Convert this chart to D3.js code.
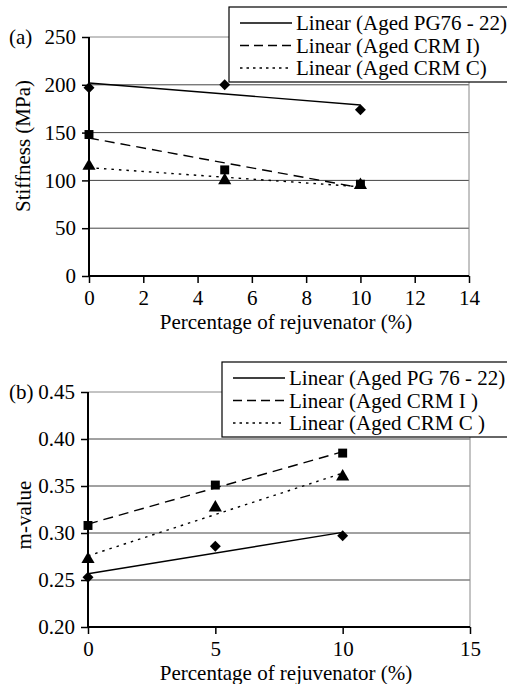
<!DOCTYPE html>
<html>
<head>
<meta charset="utf-8">
<script src="https://cdn.jsdelivr.net/npm/d3@7"></script>
<style>
  body { margin: 0; background: #fff; }
  svg { display: block; }
  svg text { font-family: "Liberation Serif", "DejaVu Serif", "Times New Roman", Times, serif; }
</style>
</head>
<body>
<svg id="vis" width="507" height="684"></svg>
<script>
// rejuvenator content (%)
const rejuv = [0, 5, 10];

// (a) stiffness, MPa
const stiffPG = [197, 200, 174];
const stiffCrmI = [148, 111, 96];
const stiffCrmC = [115, 100, 95];

// (b) m-value
const mPG = [0.253, 0.286, 0.297];
const mCrmI = [0.308, 0.351, 0.385];
const mCrmC = [0.272, 0.327, 0.360];

const xTicksA = [0, 2, 4, 6, 8, 10, 12, 14];
const yTicksA = [0, 50, 100, 150, 200, 250];
const xTicksB = [0, 5, 10, 15];
const yTicksB = [0.20, 0.25, 0.30, 0.35, 0.40, 0.45];

const legendA = ["Linear (Aged PG76 - 22)", "Linear (Aged CRM I)", "Linear (Aged CRM C)"];
const legendB = ["Linear (Aged PG 76 - 22)", "Linear (Aged CRM I )", "Linear (Aged CRM C )"];

const svg = d3.select("svg#vis");
const FONT = "Liberation Serif, DejaVu Serif, serif";

// line styles and markers per series (PG, CRM I, CRM C)
const dashes = [null, "10,6", "2.5,5"];
const markers = [
  d3.symbol().type(d3.symbolSquare).size(60),   // rotated -> diamond
  d3.symbol().type(d3.symbolSquare).size(80),
  d3.symbol().type(d3.symbolTriangle).size(75)
];
const rotations = [45, 0, 0];

// least squares trendline, like the spreadsheet "Linear" fit
function fit(xs, ys) {
  const mx = d3.mean(xs), my = d3.mean(ys);
  const b = d3.sum(xs, (x, i) => (x - mx) * (ys[i] - my)) / d3.sum(xs, x => (x - mx) * (x - mx));
  return {slope: b, icpt: my - b * mx};
}

function drawPanel(cfg) {
  const g = svg.append("g");
  const x = d3.scaleLinear().domain(cfg.xDomain).range(cfg.xRange);
  const y = d3.scaleLinear().domain(cfg.yDomain).range(cfg.yRange);

  // horizontal gridlines
  g.append("g").selectAll("line")
    .data(cfg.yTicks.slice(1))
    .join("line")
      .attr("x1", cfg.xRange[0]).attr("x2", cfg.xRange[1])
      .attr("y1", d => y(d)).attr("y2", d => y(d))
      .attr("stroke", (d, i) => i === cfg.yTicks.length - 2 ? "#888" : "#444")
      .attr("stroke-width", 1);

  // right border of plot area
  g.append("line")
    .attr("x1", cfg.xRange[1]).attr("x2", cfg.xRange[1])
    .attr("y1", cfg.yRange[0]).attr("y2", cfg.yRange[1])
    .attr("stroke", "#888");

  // axes
  const xAxis = g.append("g")
    .attr("transform", `translate(0,${cfg.yRange[0]})`)
    .call(d3.axisBottom(x).tickValues(cfg.xTicks).tickSize(7).tickPadding(7).tickFormat(d3.format("d")));
  const yAxis = g.append("g")
    .attr("transform", `translate(${cfg.xRange[0]},0)`)
    .call(d3.axisLeft(y).tickValues(cfg.yTicks).tickSize(7).tickPadding(6).tickFormat(cfg.yFormat));
  [xAxis, yAxis].forEach(a => {
    a.attr("font-family", FONT).attr("font-size", 21);
    a.select(".domain").attr("stroke", "#000").attr("stroke-width", 2);
    a.selectAll(".tick line").attr("stroke", "#000").attr("stroke-width", 1.5);
    a.selectAll(".tick text").attr("fill", "#000");
  });
  xAxis.select(".domain").attr("d", `M${cfg.xRange[0]},0H${cfg.xRange[1]}`);
  yAxis.select(".domain").attr("d", `M0,${cfg.yRange[0]}V${cfg.yRange[1]}`);

  // trendlines
  cfg.series.forEach((s, i) => {
    const f = fit(rejuv, s);
    const x0 = rejuv[0], x1 = rejuv[rejuv.length - 1];
    g.append("line")
      .attr("x1", x(x0)).attr("y1", y(f.icpt + f.slope * x0))
      .attr("x2", x(x1)).attr("y2", y(f.icpt + f.slope * x1))
      .attr("stroke", "#000")
      .attr("stroke-width", 1.4)
      .attr("stroke-dasharray", dashes[i]);
  });

  // markers
  cfg.series.forEach((s, i) => {
    g.append("g").selectAll("path")
      .data(s)
      .join("path")
        .attr("d", markers[i])
        .attr("transform", (d, j) => `translate(${x(rejuv[j])},${y(d)}) rotate(${rotations[i]})`)
        .attr("fill", "#000");
  });

  // axis titles
  g.append("text")
    .attr("x", (cfg.xRange[0] + cfg.xRange[1]) / 2 + 7)
    .attr("y", cfg.yRange[0] + 53)
    .attr("text-anchor", "middle")
    .attr("font-size", 21)
    .text("Percentage of rejuvenator (%)");
  g.append("text")
    .attr("transform", `translate(${cfg.yLabelX},${cfg.yLabelY}) rotate(-90)`)
    .attr("text-anchor", "middle")
    .attr("font-size", 21)
    .text(cfg.yLabel);

  // panel letter
  g.append("text")
    .attr("x", 9).attr("y", cfg.yRange[1] + 7)
    .attr("font-size", 21)
    .text(cfg.letter);

  // legend
  const lg = g.append("g").attr("transform", `translate(${cfg.legend.x},${cfg.legend.y})`);
  lg.append("rect")
    .attr("x", 0).attr("y", 0)
    .attr("width", 300).attr("height", 75)
    .attr("fill", "#fff").attr("stroke", "#000").attr("stroke-width", 1.2);
  cfg.legend.labels.forEach((t, i) => {
    const ry = 16 + i * 22.5;
    lg.append("line")
      .attr("x1", 11).attr("x2", 63)
      .attr("y1", ry).attr("y2", ry)
      .attr("stroke", "#000").attr("stroke-width", 1.4)
      .attr("stroke-dasharray", i === 0 ? null : (i === 1 ? "9,5" : "2.5,4"));
    lg.append("text")
      .attr("x", 67).attr("y", ry + 7)
      .attr("font-size", 21)
      .text(t);
  });
}

drawPanel({
  letter: "(a)",
  xDomain: [0, 14], xRange: [89, 469],
  yDomain: [0, 250], yRange: [276, 37],
  xTicks: xTicksA, yTicks: yTicksA,
  yFormat: d3.format("d"),
  yLabel: "Stiffness (MPa)", yLabelX: 30, yLabelY: 146,
  series: [stiffPG, stiffCrmI, stiffCrmC],
  legend: {x: 229, y: 7, labels: legendA}
});

drawPanel({
  letter: "(b)",
  xDomain: [0, 15], xRange: [88, 470],
  yDomain: [0.20, 0.45], yRange: [627, 392],
  xTicks: xTicksB, yTicks: yTicksB,
  yFormat: d3.format(".2f"),
  yLabel: "m-value", yLabelX: 31, yLabelY: 515,
  series: [mPG, mCrmI, mCrmC],
  legend: {x: 222, y: 362, labels: legendB}
});
</script>
</body>
</html>
